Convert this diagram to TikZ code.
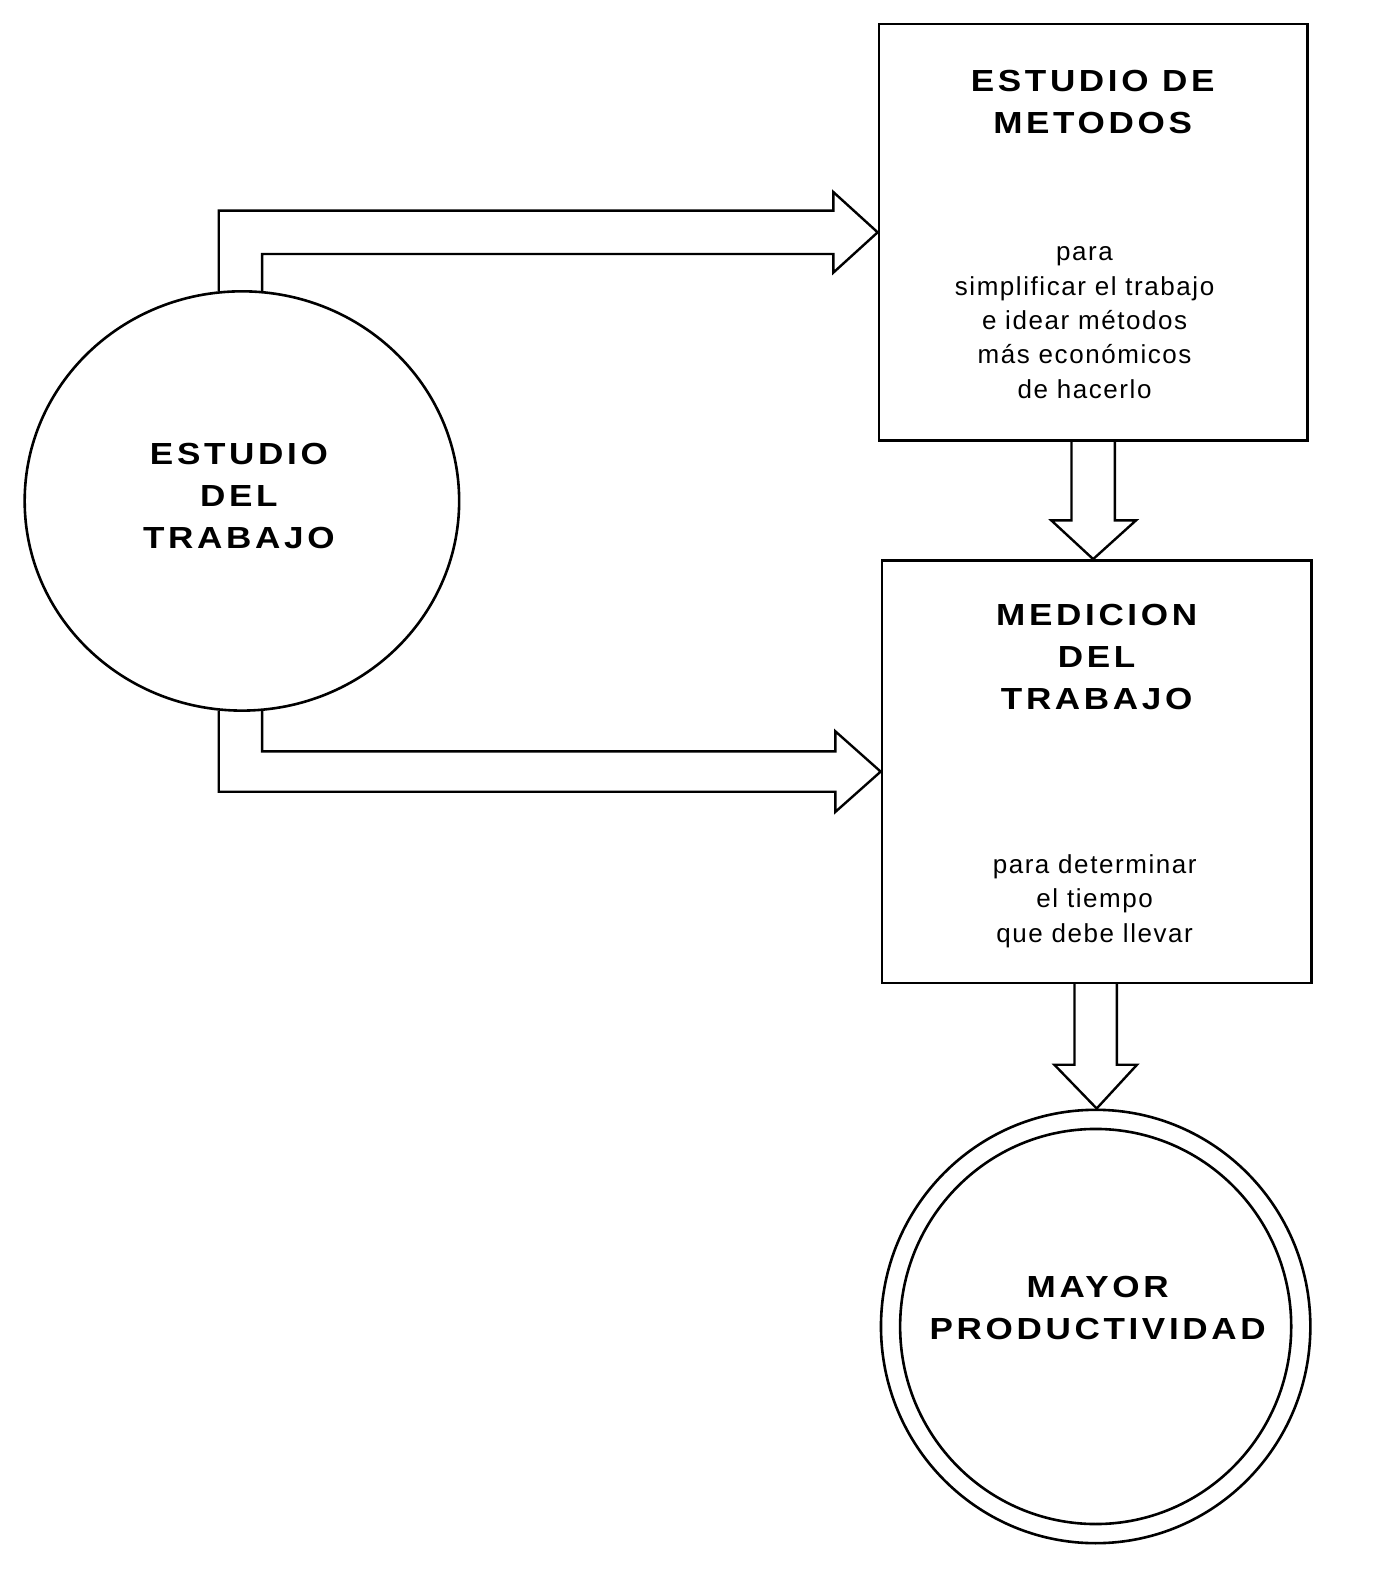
\documentclass[tikz,border=0pt]{standalone}
\usepackage{fontspec}
\usetikzlibrary{shapes.geometric}
\usetikzlibrary{calc}
\newfontfamily\headfont[LetterSpace=12,FakeStretch=1.15]{Liberation Sans}
\newfontfamily\bodyfont[LetterSpace=6]{Liberation Sans}
\tikzset{
	caja/.style={draw, line width=2.6pt, inner sep=0pt},
	titulo/.style={align=center, inner sep=0pt, font=\headfont\bfseries\fontsize{30.5}{42}\selectfont},
	texto/.style={align=center, inner sep=0pt, font=\bodyfont\fontsize{26}{34.3}\selectfont},
	flecha/.style={line width=2.4pt, line join=miter},
}
\begin{document}
\begin{tikzpicture}[x=1.008pt,y=1.008pt,yscale=-1,xscale=1]
			\useasboundingbox (0,0) rectangle (1384.9,1568.5);
			
			%Shape: Circle [id:trabajo]
			\node (trabajo) [caja, ellipse, minimum width=434.5pt, minimum height=419.3pt] at (240,497) {};
			%Shape: Rectangle [id:metodos]
			\node (metodos) [caja, rectangle, minimum width=428.4pt, minimum height=416.3pt] at (1084.5,230.5) {};
			%Shape: Rectangle [id:medicion]
			\node (medicion) [caja, rectangle, minimum width=429.4pt, minimum height=422.4pt] at (1088,765.5) {};
			%Shape: Circle [id:mayor]
			\node (mayor) [caja, ellipse, minimum width=429.4pt, minimum height=433.4pt] at (1087,1316) {};
			%Shape: Circle [id:mayorint]
			\node (mayorint) [caja, ellipse, minimum width=391.1pt, minimum height=395.1pt] at (mayor.center) {};
			
			%Hollow Arrow [id:a1]
			\draw [flecha] ($(trabajo.north)+(-23,1)$) |- ($(metodos.west)+(-44,-21.5)$) -- ($(metodos.west)+(-44,-40)$) -- (metodos.west) -- ($(metodos.west)+(-44,40)$) -- ($(metodos.west)+(-44,21.5)$) -| ($(trabajo.north)+(20,1)$) ;
			%Hollow Arrow [id:a2]
			\draw [flecha] ($(trabajo.south)+(20,-1)$) |- ($(medicion.west)+(-45,-20)$) -- ($(medicion.west)+(-45,-40)$) -- (medicion.west) -- ($(medicion.west)+(-45,40)$) -- ($(medicion.west)+(-45,20)$) -| ($(trabajo.south)+(-23,-1)$) ;
			%Hollow Arrow [id:a3]
			\draw [flecha] ($(metodos.south)+(-21.5,0)$) -- ++(0,78) -- ++(-20,0) -- (metodos.south |- medicion.north) -- ($(metodos.south)+(42.5,78)$) -- ++(-21,0) -- ($(metodos.south)+(21.5,0)$) ;
			%Hollow Arrow [id:a4]
			\draw [flecha] ($(medicion.south)+(-22,0)$) -- ++(0,80) -- ++(-20,0) -- (medicion.south |- mayor.north) -- ($(medicion.south)+(40,80)$) -- ++(-20,0) -- ($(medicion.south)+(20,0)$) ;
			
			% Text Node
			\node (ttrabajo) at (237,492) [titulo] {ESTUDIO\\DEL\\TRABAJO};
			% Text Node
			\node (tmetodos) at (1084,101) [titulo] {ESTUDIO DE\\METODOS};
			% Text Node
			\node (xmetodos) at (1076,320) [texto] {para\\simplificar el trabajo\\e idear métodos\\más económicos\\de hacerlo};
			% Text Node
			\node (tmedicion) at (1088,652) [titulo] {MEDICION\\DEL\\TRABAJO};
			% Text Node
			\node (xmedicion) at (1086,894) [texto] {para determinar\\el tiempo\\que debe llevar};
			% Text Node
			\node (tmayor) at (1089,1298) [titulo] {MAYOR\\PRODUCTIVIDAD};
			
		\end{tikzpicture}
\end{document}
